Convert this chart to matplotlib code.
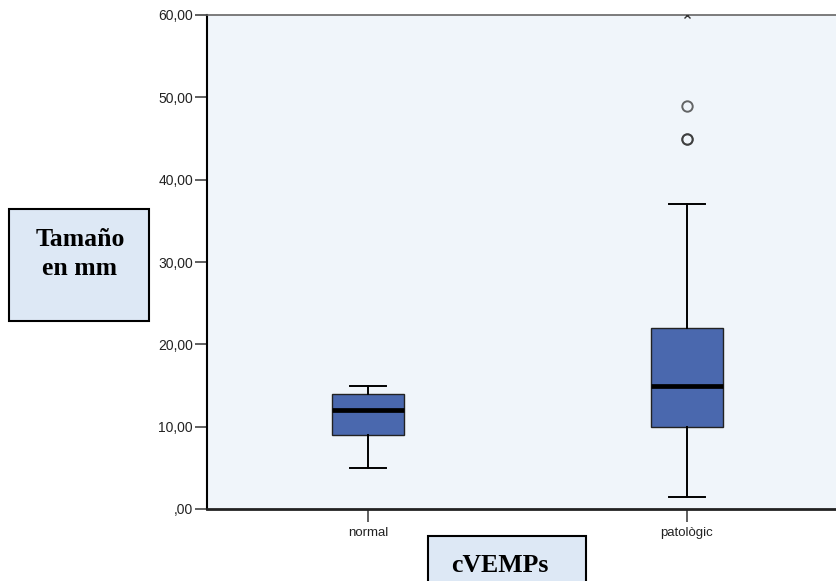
import matplotlib
matplotlib.use("Agg")
import matplotlib.pyplot as plt
from matplotlib.patches import Rectangle

# Summary statistics per cVEMPs group
categories = ["normal", "patològic"]
whisker_low = [5.0, 1.5]
q1 = [9.0, 10.0]
median = [12.0, 15.0]
q3 = [14.0, 22.0]
whisker_high = [15.0, 37.0]
outliers = [[], [45.0, 45.0, 49.0]]
extremes = [[], [60.0]]

y_ticks = [0, 10, 20, 30, 40, 50, 60]
y_tick_labels = [",00", "10,00", "20,00", "30,00", "40,00", "50,00", "60,00"]

fig = plt.figure(figsize=(8.37, 5.81), dpi=100)
fig.patch.set_facecolor("white")
ax = fig.add_axes([207 / 837, 72 / 581, 641 / 837, 494 / 581])
ax.set_facecolor("#F0F5FA")

stats = []
for i, name in enumerate(categories):
    stats.append(dict(label=name, whislo=whisker_low[i], q1=q1[i], med=median[i],
                      q3=q3[i], whishi=whisker_high[i], fliers=[]))

positions = list(range(len(categories)))
ax.bxp(stats, positions=positions, widths=0.225, patch_artist=True,
       showfliers=False, manage_ticks=False,
       boxprops=dict(facecolor="#4A68AE", edgecolor="#222222", linewidth=1.0),
       medianprops=dict(color="black", linewidth=3.4, solid_capstyle="butt"),
       whiskerprops=dict(color="black", linewidth=1.4),
       capprops=dict(color="black", linewidth=1.4),
       capwidths=0.115)

for i, pts in enumerate(outliers):
    for v in pts:
        ax.plot(positions[i], v, marker="o", markersize=7.5, markerfacecolor="none",
                markeredgecolor="#333333", markeredgewidth=1.4, linestyle="none",
                clip_on=False, alpha=0.75)
for i, pts in enumerate(extremes):
    for v in pts:
        ax.plot(positions[i], v, marker="x", markersize=5, color="#333333",
                markeredgewidth=1.0, linestyle="none", clip_on=True, zorder=5)

ax.set_xlim(-0.505, 1.505)
ax.set_ylim(0, 60)
ax.set_yticks(y_ticks)
ax.set_yticklabels(y_tick_labels, family="Liberation Sans", fontsize=10, color="#222222")
ax.set_xticks(positions)
ax.set_xticklabels(categories, family="Liberation Sans", fontsize=9.5, color="#222222")
ax.tick_params(axis="y", direction="out", length=9, width=1.2, color="#444444", pad=1)
ax.tick_params(axis="x", direction="out", length=9, width=1.2, color="#444444", pad=4)

ax.spines["left"].set_color("black")
ax.spines["left"].set_linewidth(1.5)
ax.spines["bottom"].set_color("#222222")
ax.spines["bottom"].set_linewidth(2.0)
ax.spines["top"].set_color("#666666")
ax.spines["top"].set_linewidth(1.2)
ax.spines["right"].set_visible(False)

# Axis title boxes
fig.patches.append(Rectangle((9 / 837, 1 - 321 / 581), 140 / 837, 112 / 581,
                             transform=fig.transFigure, facecolor="#DDE8F5",
                             edgecolor="black", linewidth=1.5))
fig.text(80 / 837, 1 - 254 / 581, "Tamaño\nen mm", ha="center", va="center",
         family="Liberation Serif", fontweight="bold", fontsize=18.5, linespacing=1.38)

fig.patches.append(Rectangle((428 / 837, -5 / 581), 158 / 837, 50 / 581,
                             transform=fig.transFigure, facecolor="#DDE8F5",
                             edgecolor="black", linewidth=1.5))
fig.text(500 / 837, 1 - 565 / 581, "cVEMPs", ha="center", va="center",
         family="Liberation Serif", fontweight="bold", fontsize=18.5)

fig.savefig("out.png", dpi=100)
